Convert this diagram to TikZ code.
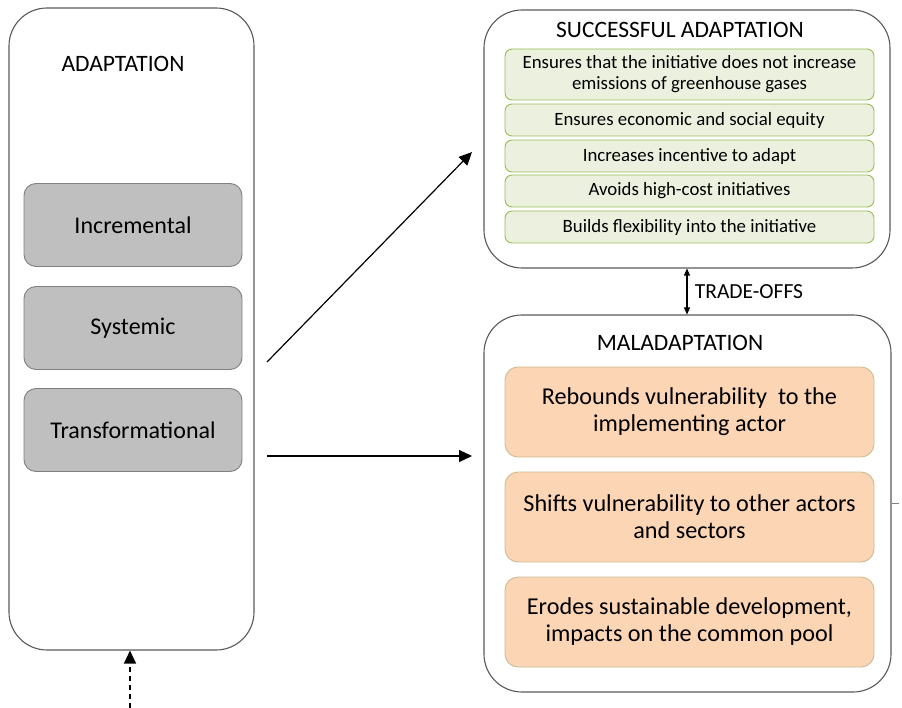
\documentclass[tikz,border=0pt]{standalone}
\usepackage{xcolor}
\usepackage{fontspec}
\setmainfont{Carlito}
\usetikzlibrary{arrows.meta}

\definecolor{frame}{HTML}{595959}
\definecolor{greyfill}{HTML}{BFBFBF}
\definecolor{greyline}{HTML}{808080}
\definecolor{greenfill}{HTML}{EBF1DE}
\definecolor{greenline}{HTML}{9BBB59}
\definecolor{peachfill}{HTML}{FCD5B5}
\definecolor{peachline}{HTML}{C9BC94}

\tikzset{
  outerbox/.style={draw=frame, line width=1.1pt, rounded corners=38pt, inner sep=0pt},
  titletext/.style={font=\fontsize{23.5}{27}\selectfont},
  kindbox/.style={draw=greyline, fill=greyfill, line width=0.9pt, rounded corners=12pt,
    minimum width=218pt, minimum height=83pt, inner sep=0pt, font=\fontsize{24}{28}\selectfont},
  goodbox/.style={draw=greenline, fill=greenfill, line width=0.9pt, rounded corners=7pt,
    minimum width=369pt, minimum height=32pt, inner sep=0pt, align=center,
    font=\fontsize{18.8}{21}\selectfont},
  badbox/.style={draw=peachline, fill=peachfill, line width=0.9pt, rounded corners=13pt,
    minimum width=369pt, minimum height=90pt, inner sep=0pt, align=center,
    font=\fontsize{24.2}{27}\selectfont},
  flowarrow/.style={line width=1.2pt, -{Triangle[length=13pt,width=12pt]}},
}

\begin{document}
\begin{tikzpicture}[x=1pt, y=-1pt]
      \useasboundingbox (0,0) rectangle (902,708);

      % Left column
      \node[outerbox, minimum width=245pt, minimum height=642pt] (adapt) at (131.5,329) {};
      \node[titletext] (adapttitle) at (123,64) {ADAPTATION};
      \node[kindbox] (incr) at (133,225) {Incremental};
      \node[kindbox] (syst) at (133,328) {Systemic};
      \node[kindbox] (trans) at (133,430) {Transformational};

      % Successful adaptation
      \node[outerbox, minimum width=406pt, minimum height=258pt] (succ) at (687,139) {};
      \node[titletext] (succtitle) at (680,30) {SUCCESSFUL ADAPTATION};
      \node[goodbox, minimum height=51pt] (g1) at (689.5,74.5) {Ensures that the initiative does not increase\\emissions of greenhouse gases};
      \node[goodbox] (g2) at (689.5,120) {Ensures economic and social equity};
      \node[goodbox] (g3) at (689.5,156) {Increases incentive to adapt};
      \node[goodbox] (g4) at (689.5,191) {Avoids high-cost initiatives};
      \node[goodbox] (g5) at (689.5,227) {Builds flexibility into the initiative};

      % Maladaptation
      \node[outerbox, minimum width=407pt, minimum height=377pt] (mal) at (687.5,503.5) {};
      \node[titletext] (maltitle) at (680,343) {MALADAPTATION};
      \node[badbox] (b1) at (689.5,412) {Rebounds vulnerability\ \ to the\\implementing actor};
      \node[badbox] (b2) at (689.5,517) {Shifts vulnerability to other actors\\and sectors};
      \node[badbox] (b3) at (689.5,622) {Erodes sustainable development,\\impacts on the common pool};

      % Arrows
      \coordinate (diagstart) at (267,362);
      \coordinate (diagend) at (472,152);
      \coordinate (flatstart) at (267,456);
      \coordinate (flatend) at (472,456);
      \coordinate (feed) at (130,708);
      \draw[flowarrow] (diagstart) -- (diagend);
      \draw[flowarrow] (flatstart) -- (flatend);
      \draw[flowarrow, line width=1.4pt, dash pattern=on 5pt off 4pt] (feed) -- (feed |- adapt.south);
      \draw[line width=1.1pt, {Triangle[length=7pt,width=6pt]}-{Triangle[length=7pt,width=6pt]}]
        (succ.south) -- (succ.south |- mal.north)
        node[midway, right=4pt, font=\fontsize{21.5}{24}\selectfont] (trade) {TRADE-OFFS};
      \draw[greyline, line width=1pt] (mal.east) -- ++(7,0);
    \end{tikzpicture}
\end{document}
